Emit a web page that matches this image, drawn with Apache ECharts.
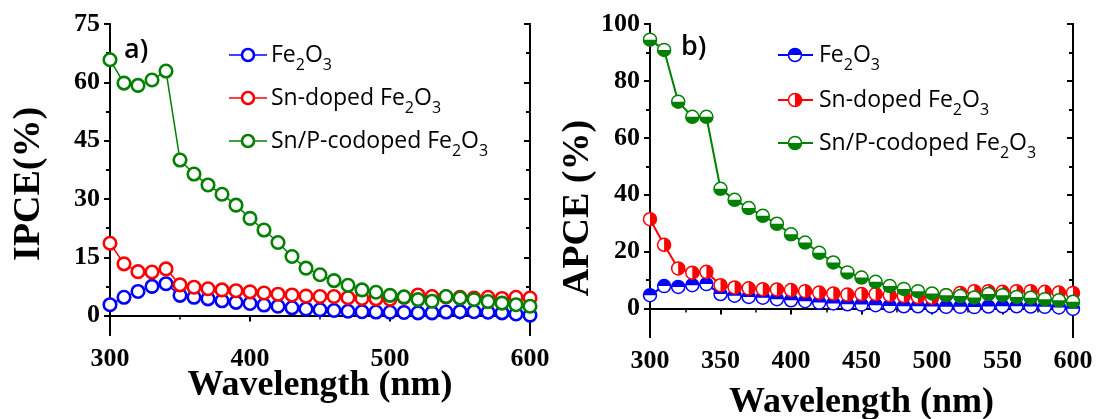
<!DOCTYPE html>
<html><head><meta charset="utf-8">
<script src="https://cdn.jsdelivr.net/npm/echarts@6/dist/echarts.min.js"></script>
<style>html,body{margin:0;padding:0;background:#fff}#c{width:1097px;height:419px}</style>
</head><body><div id="c"></div>
<script>
// ---------- data ----------
const wavelengths = [300,310,320,330,340,350,360,370,380,390,400,410,420,430,440,450,460,470,480,490,500,510,520,530,540,550,560,570,580,590,600];
const seriesNames = ['Fe2O3', 'Sn-doped Fe2O3', 'Sn/P-codoped Fe2O3'];
const seriesColors = ['#0000ff', '#ff0000', '#008000'];

// panel a) IPCE (%)
const ipceFe2O3 = [2.8,4.7,6.2,7.5,8.2,5.2,4.7,4.3,3.8,3.4,3.1,2.7,2.4,2.0,1.7,1.5,1.3,1.1,1.0,0.9,0.85,0.8,0.7,0.7,0.9,1.0,1.0,0.85,0.7,0.4,0.1];
const ipceSnDoped = [18.6,13.3,11.3,11.2,12.0,7.9,7.3,6.9,6.6,6.4,6.1,5.8,5.5,5.3,5.0,4.9,4.9,4.6,4.4,4.3,4.2,4.7,5.3,4.9,4.8,4.7,4.5,4.7,4.4,4.7,4.5];
const ipceSnPCodoped = [65.8,59.8,59.2,60.6,62.9,40.0,36.4,33.6,31.2,28.4,25.0,22.0,18.8,15.2,12.2,10.5,9.0,7.8,6.6,6.0,5.2,4.8,4.1,3.7,4.9,4.5,4.1,3.6,3.2,2.8,2.4];

// panel b) APCE (%)
const apceFe2O3 = [4.7,7.9,7.6,8.2,8.6,5.1,4.5,4.1,3.8,3.3,2.9,2.6,2.1,1.8,1.5,1.4,1.2,0.9,0.8,0.8,0.7,0.6,0.6,0.5,0.7,0.8,0.8,0.7,0.6,0.4,-0.1];
const apceSnDoped = [31.4,22.4,14.1,12.6,12.9,8.2,7.4,7.1,6.8,6.7,6.5,6.1,5.6,5.3,4.9,5.1,5.1,4.7,4.4,4.1,3.8,4.7,5.5,6.1,6.1,5.9,6.1,6.1,5.9,5.6,5.5];
const apceSnPCodoped = [94.5,90.9,72.7,67.4,67.4,42.1,38.2,35.3,32.6,29.8,26.1,23.2,19.6,16.2,12.7,10.9,9.4,7.9,6.9,6.1,5.3,4.7,4.4,3.9,5.1,4.7,4.1,3.8,3.3,2.9,2.4];

// ticks
const ipceMajorTicks = [0,15,30,45,60,75];
const ipceMinorTicks = [7.5,22.5,37.5,52.5,67.5];
const apceMajorTicks = [0,20,40,60,80,100];
const apceMinorTicks = [10,30,50,70,90];

// ---------- chart ----------
const ipceData = [ipceFe2O3, ipceSnDoped, ipceSnPCodoped];
const apceData = [apceFe2O3, apceSnDoped, apceSnPCodoped];
const pair = arr => wavelengths.map((w, i) => [w, arr[i]]);

const serif = 'Liberation Serif';
const sans = 'Open Sans';
const tickFont = {fontFamily: serif, fontWeight: 'bold', fontSize: 26, color: '#000'};
const axLine = {show: true, lineStyle: {color: '#000', width: 2}};

function bottomX(grid, interval, gap) {
  return {
    type: 'value', gridIndex: grid, position: 'bottom', min: 300, max: 600, interval: interval,
    axisLine: axLine,
    axisTick: {show: true, inside: false, length: 6, lineStyle: {color: '#000', width: 2}},
    minorTick: {show: true, splitNumber: 2, length: 4, lineStyle: {color: '#000', width: 1.5}},
    axisLabel: Object.assign({margin: 11, showMinLabel: true, showMaxLabel: true}, tickFont),
    splitLine: {show: false},
    name: 'Wavelength (nm)', nameLocation: 'middle', nameGap: gap, nameMoveOverlap: false,
    nameTextStyle: {fontFamily: serif, fontWeight: 'bold', fontSize: 36, color: '#000'}
  };
}
function topX(grid) {
  return {type: 'value', gridIndex: grid, position: 'top', min: 300, max: 600,
    axisLine: axLine, axisTick: {show: false}, axisLabel: {show: false}, splitLine: {show: false}};
}
function yAx(grid, min, max, pos, ticks, len, inside, labels) {
  return {
    type: 'value', gridIndex: grid, position: pos, min: min, max: max,
    axisLine: axLine,
    axisTick: {show: true, inside: inside, length: len, customValues: ticks, lineStyle: {color: '#000', width: 2}},
    axisLabel: labels ? Object.assign({margin: 10, customValues: ticks}, tickFont) : {show: false},
    splitLine: {show: false}
  };
}

const series = [];
seriesNames.forEach((nm, k) => {
  series.push({
    name: nm, type: 'line', xAxisIndex: 0, yAxisIndex: 0, data: pair(ipceData[k]),
    symbol: 'circle', symbolSize: 12.5, showAllSymbol: true, z: 2 + k,
    lineStyle: {color: seriesColors[k], width: 1.5},
    itemStyle: {color: '#fff', borderColor: seriesColors[k], borderWidth: 2.6},
    emphasis: {disabled: true}, silent: true
  });
});
const halfSym = [
  {path: 'path://M0,10A10,10,0,0,1,20,10Z', size: [13, 6.5], off: [0, -3.25]},   // top half
  {path: 'path://M0,0A10,10,0,0,1,0,20Z', size: [6.5, 13], off: [3.25, 0]},      // right half
  {path: 'path://M0,0A10,10,0,0,0,20,0Z', size: [13, 6.5], off: [0, 3.25]}       // bottom half
];
seriesNames.forEach((nm, k) => {
  series.push({
    name: nm, type: 'line', xAxisIndex: 2, yAxisIndex: 4, data: pair(apceData[k]),
    symbol: 'circle', symbolSize: 13, showAllSymbol: true, z: 10 + 2 * k,
    lineStyle: {color: seriesColors[k], width: 2},
    itemStyle: {color: '#fff', borderColor: seriesColors[k], borderWidth: 1.5},
    emphasis: {disabled: true}, silent: true
  });
  series.push({
    name: nm + ' fill', type: 'scatter', xAxisIndex: 2, yAxisIndex: 4, data: pair(apceData[k]),
    symbol: halfSym[k].path, symbolSize: halfSym[k].size, symbolOffset: halfSym[k].off,
    z: 11 + 2 * k, zlevel: 0,
    itemStyle: {color: seriesColors[k], opacity: 1},
    emphasis: {disabled: true}, silent: true
  });
});

// legend (drawn)
const rich = {
  a: {fontFamily: sans, fontSize: 23, fill: '#000'},
  s: {fontFamily: sans, fontSize: 16, fill: '#000', padding: [20, 0, 0, 0]}
};
const legendLabels = [
  '{a|Fe}{s|2}{a|O}{s|3}',
  '{a|Sn-doped Fe}{s|2}{a|O}{s|3}',
  '{a|Sn/P-codoped Fe}{s|2}{a|O}{s|3}'
];
const graphics = [];
function addLegend(lx0, lx1, mx, tx, rows, half) {
  rows.forEach((y, k) => {
    graphics.push({type: 'line', shape: {x1: lx0, y1: y, x2: lx1, y2: y}, style: {stroke: seriesColors[k], lineWidth: half ? 2 : 1.5}});
    graphics.push({type: 'circle', shape: {cx: mx, cy: y, r: half ? 6.5 : 6}, style: {fill: '#fff', stroke: seriesColors[k], lineWidth: half ? 1.5 : 2.6}});
    if (half) {
      const ang = [[Math.PI, 2 * Math.PI], [-Math.PI / 2, Math.PI / 2], [0, Math.PI]][k];
      graphics.push({type: 'sector', shape: {cx: mx, cy: y, r0: 0, r: 6.5, startAngle: ang[0], endAngle: ang[1], clockwise: true}, style: {fill: seriesColors[k]}});
    }
    graphics.push({type: 'text', x: tx, y: y, style: {text: legendLabels[k], rich: rich, textVerticalAlign: 'middle', textAlign: 'left'}});
  });
}
addLegend(229, 267, 248, 271, [55, 98, 141], false);
addLegend(778, 813, 795, 819, [55, 100, 143], true);

graphics.push({type: 'text', x: 124, y: 50, style: {text: 'a)', font: '600 27px "Open Sans"', fill: '#000', textVerticalAlign: 'middle'}});
graphics.push({type: 'text', x: 681, y: 47, style: {text: 'b)', font: '600 27px "Open Sans"', fill: '#000', textVerticalAlign: 'middle'}});
graphics.push({type: 'text', x: 29, y: 184, rotation: Math.PI / 2, style: {text: 'IPCE(%)', font: 'bold 38px "Liberation Serif"', fill: '#000', textAlign: 'center', textVerticalAlign: 'middle'}});
graphics.push({type: 'text', x: 578, y: 208, rotation: Math.PI / 2, style: {text: 'APCE (%)', font: 'bold 38px "Liberation Serif"', fill: '#000', textAlign: 'center', textVerticalAlign: 'middle'}});

const chart = echarts.init(document.getElementById('c'), null, {renderer: 'canvas'});
chart.setOption({
  animation: false,
  backgroundColor: '#fff',
  grid: [
    {left: 110, top: 24, width: 420, height: 311, containLabel: false, outerBoundsMode: 'none'},
    {left: 650, top: 24, width: 423, height: 313, containLabel: false, outerBoundsMode: 'none'}
  ],
  xAxis: [bottomX(0, 100, 33), topX(0), bottomX(1, 50, 48), topX(1)],
  yAxis: [
    yAx(0, -5, 75, 'left', ipceMajorTicks, 6, false, true),
    yAx(0, -5, 75, 'left', ipceMinorTicks, 4, false, false),
    yAx(0, -5, 75, 'right', ipceMajorTicks, 6, true, false),
    yAx(0, -5, 75, 'right', ipceMinorTicks, 4, true, false),
    yAx(1, -10, 100, 'left', apceMajorTicks, 6, false, true),
    yAx(1, -10, 100, 'left', apceMinorTicks, 4, false, false),
    yAx(1, -10, 100, 'right', apceMajorTicks, 6, true, false),
    yAx(1, -10, 100, 'right', apceMinorTicks, 4, true, false)
  ],
  series: series,
  graphic: graphics
});
</script></body></html>
